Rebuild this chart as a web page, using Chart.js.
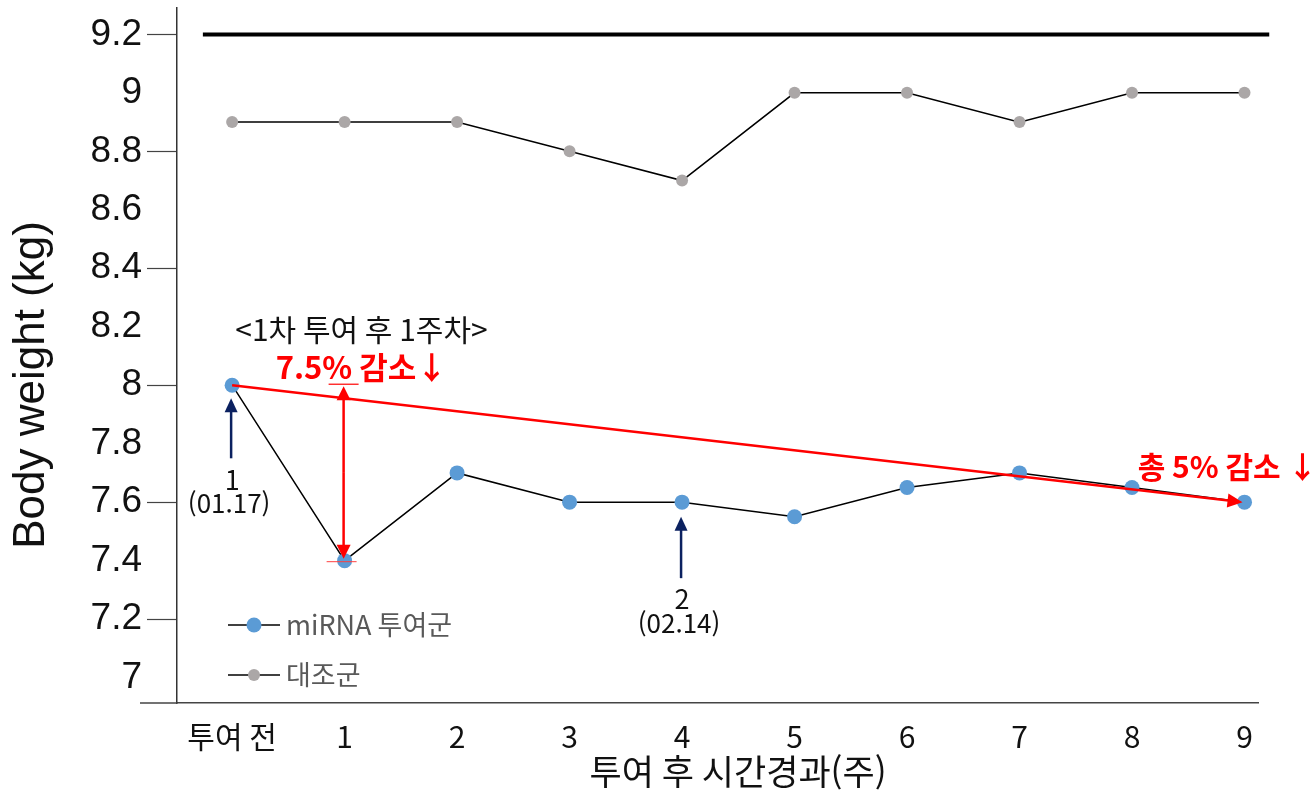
<!DOCTYPE html>
<html lang="ko">
<head>
<meta charset="utf-8">
<title>Body weight</title>
<script src="https://cdn.jsdelivr.net/npm/chart.js@4.4.1/dist/chart.umd.min.js"></script>
<style>
  html, body { margin: 0; padding: 0; background: #fff; }
  .chart-wrap { position: relative; width: 1314px; height: 797px; }
</style>
</head>
<body>
<div class="chart-wrap"><canvas id="weight-chart"></canvas></div>
<script>
'use strict';

// ── Data ──────────────────────────────────────────────────────
const categories    = ['투여 전', '1', '2', '3', '4', '5', '6', '7', '8', '9'];
const mirnaValues   = [8.0, 7.4, 7.7, 7.6, 7.6, 7.55, 7.65, 7.7, 7.65, 7.6];
const controlValues = [8.9, 8.9, 8.9, 8.8, 8.7, 9.0, 9.0, 8.9, 9.0, 9.0];
const yTickValues   = [7, 7.2, 7.4, 7.6, 7.8, 8, 8.2, 8.4, 8.6, 8.8, 9, 9.2];
const yTickMarks    = [7.2, 7.6, 8, 8.4, 8.8, 9.2];
const refValue      = 9.2;
const refSpan       = [-0.26, 9.22];

// annotations (data units)
const doseArrows = [
  { x: 0, from: 7.75, to: 7.955, label: '1', date: '(01.17)' },
  { x: 4, from: 7.34, to: 7.55,  label: '2', date: '(02.14)' }
];
const dropArrow  = { x: 1, top: 8.0, bottom: 7.4 };
const trendArrow = { x1: 0, y1: 8.0, x2: 9, y2: 7.6 };
const notes = [
  { x: 1.15, y: 8.19,  text: '<1차 투여 후 1주차>', color: '#111', font: '400 30px "Noto Sans CJK KR"', align: 'center' },
  { x: 1.15, y: 8.06,  text: '7.5% 감소↓',          color: '#ff0000', font: '700 31px "Noto Sans CJK KR"', align: 'center' },
  { x: 8.05, y: 7.723, text: '총 5% 감소 ↓',        color: '#ff0000', font: '700 30px "Noto Sans CJK KR"', align: 'left' }
];

const KR   = '"Noto Sans CJK KR", "Noto Sans", sans-serif';
const LAT  = '"Liberation Sans", Arial, sans-serif';
const RED  = '#ff0000';
const NAVY = '#0b2160';

// ── Helpers ───────────────────────────────────────────────────
function arrow(ctx, x1, y1, x2, y2, color, width, head, headW) {
  const a = Math.atan2(y2 - y1, x2 - x1);
  const c = Math.cos(a), s = Math.sin(a);
  ctx.save();
  ctx.strokeStyle = color;
  ctx.fillStyle = color;
  ctx.lineWidth = width;
  ctx.beginPath();
  ctx.moveTo(x1, y1);
  ctx.lineTo(x2 - c * head * 0.8, y2 - s * head * 0.8);
  ctx.stroke();
  ctx.beginPath();
  ctx.moveTo(x2, y2);
  ctx.lineTo(x2 - head * c + (headW / 2) * s, y2 - head * s - (headW / 2) * c);
  ctx.lineTo(x2 - head * c - (headW / 2) * s, y2 - head * s + (headW / 2) * c);
  ctx.closePath();
  ctx.fill();
  ctx.restore();
}

function text(ctx, str, x, y, font, color, align) {
  ctx.save();
  ctx.font = font;
  ctx.fillStyle = color;
  ctx.textAlign = align || 'center';
  ctx.textBaseline = 'middle';
  ctx.fillText(str, x, y);
  ctx.restore();
}

// ── Overlay plugin: annotations, legend, titles ───────────────
const overlay = {
  id: 'overlay',
  afterDatasetsDraw(chart) {
    const { ctx, chartArea: area, scales: { x, y } } = chart;

    // x axis runs a little past the y axis on the left
    ctx.save();
    ctx.strokeStyle = '#444';
    ctx.lineWidth = 1.5;
    ctx.beginPath();
    ctx.moveTo(area.left - 37, area.bottom);
    ctx.lineTo(area.left, area.bottom);
    ctx.stroke();
    ctx.restore();

    // trend arrow
    arrow(ctx, x.getPixelForValue(trendArrow.x1), y.getPixelForValue(trendArrow.y1),
      x.getPixelForValue(trendArrow.x2) - 2, y.getPixelForValue(trendArrow.y2),
      RED, 2.5, 15, 14);

    // drop double arrow with caps
    const dx = x.getPixelForValue(dropArrow.x) - 1;
    const dt = y.getPixelForValue(dropArrow.top);
    const db = y.getPixelForValue(dropArrow.bottom);
    arrow(ctx, dx, (dt + db) / 2, dx, dt + 1, RED, 2.5, 14, 14);
    arrow(ctx, dx, (dt + db) / 2, dx, db - 2, RED, 2.5, 14, 14);
    ctx.save();
    ctx.strokeStyle = RED;
    ctx.lineWidth = 1.2;
    ctx.beginPath();
    ctx.moveTo(dx - 15, dt - 1); ctx.lineTo(dx + 15, dt - 1);
    ctx.stroke();
    ctx.strokeStyle = 'rgba(255,60,60,0.8)';
    ctx.beginPath();
    ctx.moveTo(dx - 17, db + 1); ctx.lineTo(dx + 13, db + 1);
    ctx.stroke();
    ctx.restore();

    // dose arrows
    doseArrows.forEach(d => {
      const px = x.getPixelForValue(d.x) - 1;
      const base = y.getPixelForValue(d.from);
      arrow(ctx, px, base, px, y.getPixelForValue(d.to), NAVY, 2.5, 14, 13);
      text(ctx, d.label, px + 1, base + 21, '400 27px ' + KR, '#111');
      text(ctx, d.date, px - 2, base + 45, '400 26px ' + KR, '#111');
    });

    // notes
    notes.forEach(n => {
      text(ctx, n.text, x.getPixelForValue(n.x), y.getPixelForValue(n.y), n.font, n.color, n.align);
    });

    // legend (inside plot, bottom-left)
    const rows = [chart.data.datasets[0], chart.data.datasets[1]];
    rows.forEach((ds, i) => {
      const ly = area.bottom - 78 + i * 50;
      const lx = area.left + 51;
      ctx.save();
      ctx.strokeStyle = ds.borderColor;
      ctx.lineWidth = 1.5;
      ctx.beginPath();
      ctx.moveTo(lx, ly); ctx.lineTo(lx + 52, ly);
      ctx.stroke();
      ctx.fillStyle = ds.pointBackgroundColor;
      ctx.beginPath();
      ctx.arc(lx + 26, ly, ds.pointRadius, 0, Math.PI * 2);
      ctx.fill();
      ctx.restore();
      text(ctx, ds.label, lx + 58, ly, '400 27px ' + KR, '#595959', 'left');
    });

    // axis titles
    text(ctx, '투여 후 시간경과(주)', 738, 772, '400 35px ' + KR, '#111');
    ctx.save();
    ctx.translate(32, 385);
    ctx.rotate(-Math.PI / 2);
    text(ctx, 'Body weight (kg)', 0, 0, '400 44px ' + LAT, '#111');
    ctx.restore();
  }
};

// ── Chart ─────────────────────────────────────────────────────
const toPoints = vals => vals.map((v, i) => ({ x: i, y: v }));

new Chart(document.getElementById('weight-chart'), {
  type: 'line',
  data: {
    datasets: [
      {
        label: 'miRNA 투여군',
        data: toPoints(mirnaValues),
        borderColor: '#000',
        borderWidth: 1.5,
        pointBackgroundColor: '#5b9bd5',
        pointBorderWidth: 0,
        pointRadius: 7.5,
        tension: 0
      },
      {
        label: '대조군',
        data: toPoints(controlValues),
        borderColor: '#000',
        borderWidth: 1.5,
        pointBackgroundColor: '#aba7a7',
        pointBorderWidth: 0,
        pointRadius: 6,
        tension: 0
      },
      {
        label: 'ref',
        data: refSpan.map(v => ({ x: v, y: refValue })),
        borderColor: '#000',
        borderWidth: 4,
        pointRadius: 0,
        clip: false
      }
    ]
  },
  options: {
    responsive: true,
    maintainAspectRatio: false,
    animation: false,
    layout: { padding: { top: 6, right: 56, left: 0, bottom: 0 } },
    plugins: {
      legend: { display: false },
      tooltip: { enabled: false }
    },
    scales: {
      x: {
        type: 'linear',
        min: -0.49,
        max: 9.12,
        afterBuildTicks: s => { s.ticks = categories.map((_, i) => ({ value: i })); },
        afterFit: s => { s.height = 94; s.paddingLeft = 0; s.paddingRight = 0; },
        grid: { display: false },
        border: { display: true, color: '#444', width: 1.5 },
        ticks: {
          autoSkip: false,
          maxRotation: 0,
          padding: 8,
          color: '#111',
          font: { family: KR, size: 30 },
          callback: v => categories[v]
        }
      },
      y: {
        type: 'linear',
        min: 6.913,
        max: 9.292,
        afterBuildTicks: s => { s.ticks = yTickValues.map(v => ({ value: v })); },
        afterFit: s => { s.width = 177; s.paddingTop = 0; s.paddingBottom = 0; },
        grid: {
          drawOnChartArea: false,
          drawTicks: true,
          tickLength: 30,
          tickWidth: 1.2,
          tickColor: c => yTickMarks.some(m => Math.abs(m - c.tick.value) < 1e-6) ? '#444' : 'rgba(0,0,0,0)'
        },
        border: { display: true, color: '#333', width: 1.5 },
        ticks: {
          padding: 5,
          color: '#111',
          font: { family: LAT, size: 37 },
          callback: v => String(Number(v.toFixed(1)))
        }
      }
    }
  },
  plugins: [overlay]
});
</script>
</body>
</html>
